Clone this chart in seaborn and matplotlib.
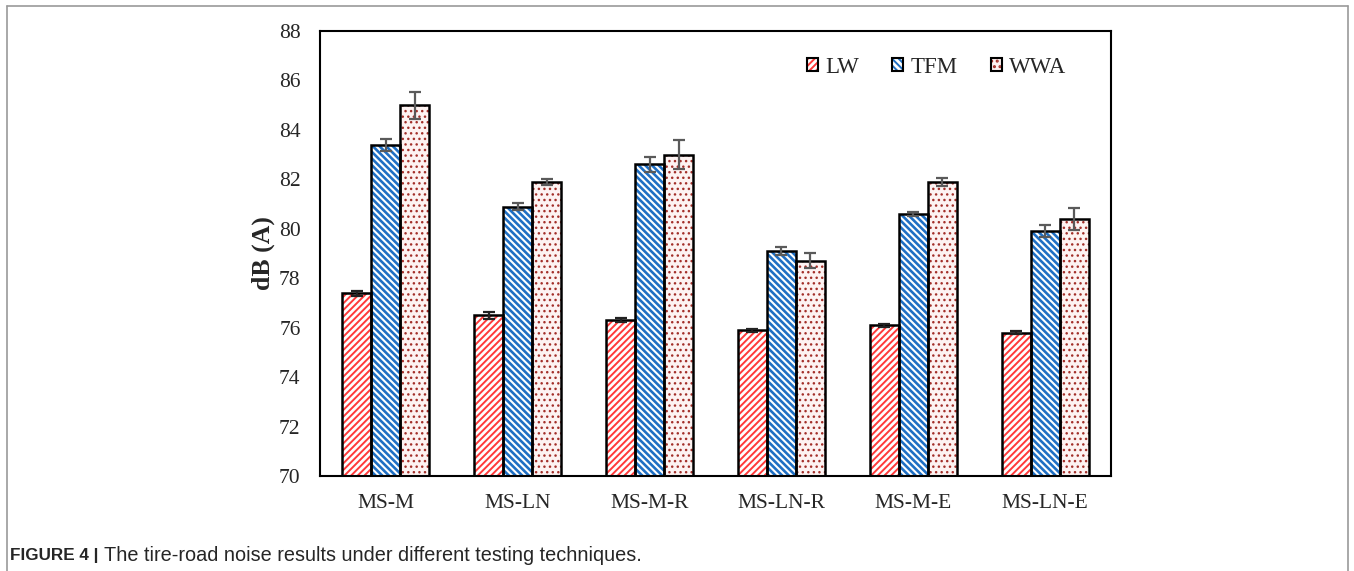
import numpy as np
import pandas as pd
import matplotlib
matplotlib.use("Agg")
import matplotlib.pyplot as plt
from matplotlib.patches import Patch, Rectangle
from matplotlib.lines import Line2D
import seaborn as sns

samples = ["MS-M", "MS-LN", "MS-M-R", "MS-LN-R", "MS-M-E", "MS-LN-E"]
methods = ["LW", "TFM", "WWA"]
lw_vals = [77.4, 76.5, 76.3, 75.9, 76.1, 75.8]
tfm_vals = [83.4, 80.9, 82.6, 79.1, 80.6, 79.9]
wwa_vals = [85.0, 81.9, 83.0, 78.7, 81.9, 80.4]
lw_err = [0.10, 0.14, 0.09, 0.06, 0.06, 0.06]
tfm_err = [0.25, 0.14, 0.30, 0.18, 0.08, 0.25]
wwa_err = [0.55, 0.12, 0.60, 0.30, 0.15, 0.45]
yticks = [70, 72, 74, 76, 78, 80, 82, 84, 86, 88]

values = [lw_vals, tfm_vals, wwa_vals]
errors = [lw_err, tfm_err, wwa_err]

df = pd.DataFrame({
    "sample": samples * 3,
    "method": [m for m in methods for _ in samples],
    "dB": lw_vals + tfm_vals + wwa_vals,
})

face_colors = ["#ffffff", "#ffffff", "#fdf3f2"]
hatch_colors = ["#ff3a3a", "#1f6fc4", "#a3302a"]
hatches = ["/////", "\\\\\\\\\\", "..."]
hatch_lws = [1.4, 1.9, 1.0]
err_colors = ["#222222", "#5a5a5a", "#5a5a5a"]

sns.set_style("white")
plt.rcParams["hatch.linewidth"] = 1.4
serif = ["Liberation Serif", "DejaVu Serif"]
sans = ["Liberation Sans", "DejaVu Sans"]

fig = plt.figure(figsize=(13.54, 5.71), dpi=100)
ax = fig.add_axes([0.2363, 0.1664, 0.5842, 0.7793])

sns.barplot(data=df, x="sample", y="dB", hue="method", hue_order=methods,
            order=samples, palette=dict(zip(methods, face_colors)),
            width=0.66, ax=ax, legend=False, errorbar=None, saturation=1)


def style_hatch(p, i):
    p.set_facecolor(face_colors[i])
    p.set_edgecolor(hatch_colors[i])
    p.set_hatch(hatches[i])
    p.set_linewidth(0)
    if hasattr(p, "set_hatch_linewidth"):
        p.set_hatch_linewidth(hatch_lws[i])


bar_containers = list(ax.containers)
for i, cont in enumerate(bar_containers):
    centers = []
    for p in cont.patches:
        style_hatch(p, i)
        ax.add_patch(Rectangle(p.get_xy(), p.get_width(), p.get_height(),
                               fill=False, edgecolor="black", linewidth=1.8,
                               zorder=p.get_zorder() + 0.1))
        centers.append(p.get_x() + p.get_width() / 2)
    ax.errorbar(centers, values[i], yerr=errors[i], fmt="none",
                ecolor=err_colors[i], elinewidth=1.6, capsize=4.5,
                capthick=1.6, zorder=5)

ax.set_ylim(70, 88)
ax.set_xlim(-0.5, len(samples) - 0.5)
ax.set_yticks(yticks)
ax.set_yticklabels([str(t) for t in yticks], fontsize=15.5, family=serif)
ax.set_xticks(range(len(samples)))
ax.set_xticklabels(samples, fontsize=15.5, family=serif)
ax.tick_params(axis="y", length=0, pad=14)
ax.tick_params(axis="x", length=0, pad=13)
ax.set_xlabel("")
ax.set_ylabel("dB (A)", fontsize=18.5, fontweight="bold", family=serif, labelpad=3)
for s in ax.spines.values():
    s.set_visible(True)
    s.set_color("black")
    s.set_linewidth(1.5)

handles = []
for i in range(3):
    hp = Patch(facecolor=face_colors[i], edgecolor=hatch_colors[i],
               hatch=hatches[i], linewidth=0)
    if hasattr(hp, "set_hatch_linewidth"):
        hp.set_hatch_linewidth(hatch_lws[i])
    handles.append((hp, Patch(fill=False, edgecolor="black", linewidth=1.5)))
leg = ax.legend(handles, methods, ncol=3, loc="center right",
                bbox_to_anchor=(0.958, 0.918), frameon=False,
                prop={"family": serif, "size": 16.5},
                handlelength=0.5, handleheight=0.5, handletextpad=0.3,
                columnspacing=1.45, borderpad=0)

fig.text(0.0074, 0.028, "FIGURE 4 |", fontsize=12.3, fontweight="bold",
         family=sans, va="center")
fig.text(0.0765, 0.028, "The tire-road noise results under different testing techniques.",
         fontsize=14.3, family=sans, va="center")

frame_c = "#9a9a9a"
fig.add_artist(Line2D([0.005, 0.9956], [1 - 6 / 571, 1 - 6 / 571], color=frame_c, lw=1.2))
fig.add_artist(Line2D([0.005, 0.005], [0, 1 - 6 / 571], color=frame_c, lw=1.2))
fig.add_artist(Line2D([0.9956, 0.9956], [0, 1 - 6 / 571], color=frame_c, lw=1.2))

fig.savefig("out.png", dpi=100)
